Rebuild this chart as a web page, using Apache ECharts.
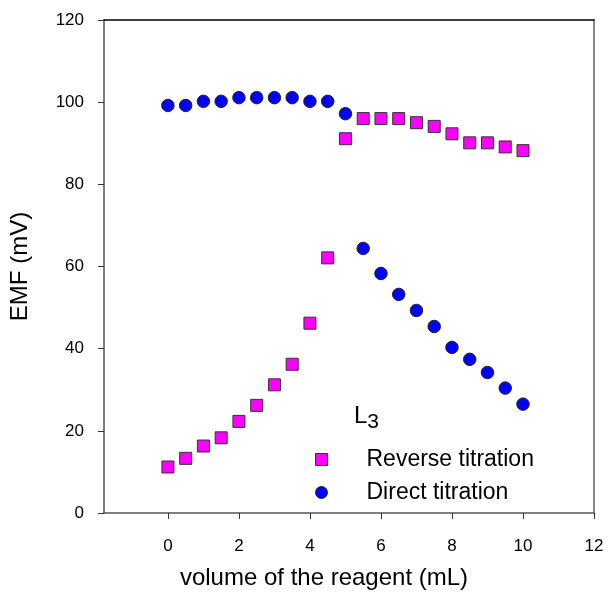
<!DOCTYPE html>
<html><head><meta charset="utf-8">
<script src="https://cdn.jsdelivr.net/npm/echarts@6/dist/echarts.min.js"></script>
<style>html,body{margin:0;padding:0;background:#fff}#c{width:608px;height:597px}</style>
</head><body><div id="c"></div>
<script>
var volume = [0,0.5,1,1.5,2,2.5,3,3.5,4,4.5,5,5.5,6,6.5,7,7.5,8,8.5,9,9.5,10];
var reverseEMF = [11.2,13.3,16.3,18.3,22.3,26.2,31.2,36.2,46.2,62.1,91.1,96.0,96.0,96.0,95.0,94.1,92.3,90.1,90.1,89.1,88.2];
var directEMF = [99.2,99.2,100.2,100.2,101.1,101.1,101.1,101.1,100.2,100.2,97.2,64.4,58.3,53.2,49.3,45.4,40.3,37.4,34.2,30.4,26.5];
var xTicks = [0,2,4,6,8,10,12];
var yTicks = [0,20,40,60,80,100,120];
var seriesNames = ['Reverse titration','Direct titration'];

function pairs(xs, ys){ return xs.map(function(x,i){ return [x, ys[i]]; }); }

var font = 'Liberation Sans, Arial, sans-serif';
var chart = echarts.init(document.getElementById('c'), null, {renderer:'canvas'});
chart.setOption({
  animation:false,
  backgroundColor:'#fff',
  title:{
    text:'{a|L}{b|3}', left:349, top:395,
    textStyle:{fontWeight:'normal',rich:{
      a:{fontFamily:font,fontSize:24,color:'#000',fontWeight:'normal'},
      b:{fontFamily:font,fontSize:21,color:'#000',fontWeight:'normal',padding:[12,0,0,0]}
    }}
  },
  legend:{
    orient:'vertical', left:310, top:443, itemGap:10,
    itemWidth:12, itemHeight:12,
    itemStyle:{borderWidth:1},
    textStyle:{fontFamily:font,fontSize:23,color:'#000',padding:[0,0,0,34]},
    data:[{name:seriesNames[0],icon:'rect'},{name:seriesNames[1],icon:'circle'}]
  },
  grid:{left:102,top:20,right:14,bottom:84},
  xAxis:[{
    type:'value', min:-1.8, max:12, position:'bottom',
    name:'volume of the reagent (mL)', nameLocation:'middle', nameGap:53,
    nameTextStyle:{fontFamily:font,fontSize:24,color:'#000',padding:[0,50,0,0]},
    axisLine:{show:true,onZero:false,lineStyle:{color:'#555',width:1.5}},
    axisTick:{show:true,inside:false,length:6,customValues:xTicks,lineStyle:{color:'#333'}},
    axisLabel:{fontFamily:font,fontSize:17,color:'#000',margin:25,customValues:xTicks},
    splitLine:{show:false}
  },{
    type:'value', min:-1.8, max:12, position:'top',
    axisLine:{show:true,onZero:false,lineStyle:{color:'#000',width:1.5}},
    axisTick:{show:false}, axisLabel:{show:false}, splitLine:{show:false}
  }],
  yAxis:[{
    type:'value', min:0, max:120, interval:20, position:'left',
    name:'EMF (mV)', nameLocation:'middle', nameGap:72, nameRotate:90,
    nameTextStyle:{fontFamily:font,fontSize:24,color:'#000'},
    axisLine:{show:true,onZero:false,lineStyle:{color:'#555',width:1.5}},
    axisTick:{show:true,inside:false,length:6,lineStyle:{color:'#333'}},
    axisLabel:{fontFamily:font,fontSize:17,color:'#000',margin:20,
      formatter:function(v){ return yTicks.indexOf(v)>=0 ? String(v) : ''; }},
    splitLine:{show:false}
  },{
    type:'value', min:0, max:120, position:'right',
    axisLine:{show:true,onZero:false,lineStyle:{color:'#888',width:2}},
    axisTick:{show:false}, axisLabel:{show:false}, splitLine:{show:false}
  }],
  series:[{
    name:seriesNames[0], type:'scatter', symbol:'rect', symbolSize:12,
    data:pairs(volume, reverseEMF),
    itemStyle:{color:'#ff00ff',borderColor:'#333',borderWidth:1,opacity:1}
  },{
    name:seriesNames[1], type:'scatter', symbol:'circle', symbolSize:12.5,
    data:pairs(volume, directEMF),
    itemStyle:{color:'#0000ff',borderColor:'#222',borderWidth:1,opacity:1}
  }]
});
</script></body></html>
